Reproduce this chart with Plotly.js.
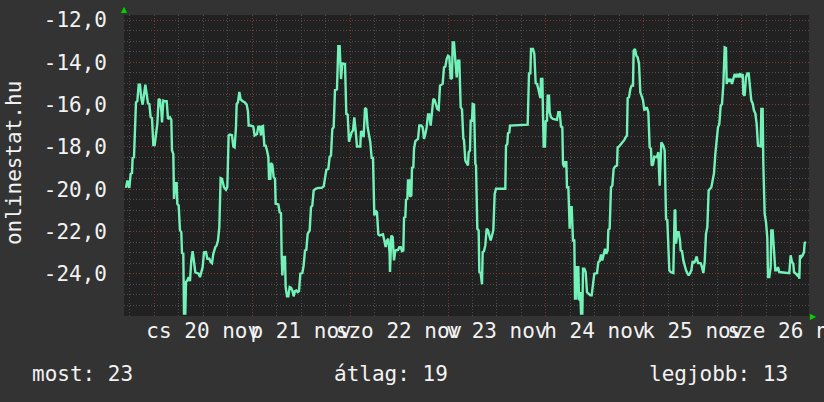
<!DOCTYPE html>
<html>
<head>
<meta charset="utf-8">
<script src="https://cdn.plot.ly/plotly-3.0.1.min.js"></script>
<style>html,body{margin:0;padding:0;background:#333333;}#chart{width:824px;height:402px;}</style>
</head>
<body>
<div id="chart"></div>
<script>
// hours since 2014-11-20 00:00
const hours = [
-6.94,-6.61,-6.12,-5.80,-5.47,-5.31,-4.98,-4.81,-4.49,-4.16,-3.83,-3.51,-3.18,-2.85,-2.53,-2.20,-1.87,-1.55,-1.22,-0.89,
-0.57,-0.24,0.09,0.41,0.74,1.07,1.40,1.72,1.89,2.21,2.54,3.03,3.36,3.85,4.17,4.34,4.66,4.83,5.15,5.48,
5.64,5.97,6.30,6.62,6.79,7.11,7.28,7.60,7.77,8.09,8.42,8.75,9.07,9.40,9.73,10.06,10.54,10.87,11.20,11.53,
11.85,12.18,12.67,13.00,13.49,13.81,14.14,14.47,14.96,15.28,15.61,15.94,16.26,16.59,17.08,17.57,17.90,18.22,18.55,19.04,
19.37,19.69,20.02,20.19,20.51,20.84,21.17,21.66,22.15,22.64,22.96,23.13,23.62,24.27,24.60,
25.18,25.50,25.83,26.16,26.32,26.65,26.98,27.30,27.63,27.96,28.12,28.45,28.61,28.94,29.26,29.59,29.75,30.08,30.41,30.73,
31.06,31.22,31.39,31.71,32.04,32.20,32.53,32.86,33.18,33.51,33.84,34.16,34.49,34.82,35.14,35.47,35.80,36.29,36.61,36.94,
37.27,37.60,38.09,38.41,38.74,39.07,39.56,40.21,41.03,41.52,41.84,42.17,42.66,42.99,43.31,43.64,43.97,44.29,44.78,45.11,
45.44,45.77,46.09,46.42,46.75,47.07,47.40,47.73,48.05,48.38,48.71,49.03,49.36,49.69,50.50,50.67,50.99,51.32,51.65,51.97,
52.30,52.63,52.95,53.28,53.61,53.94,54.26,54.59,54.92,55.24,56.06,56.39,56.71,57.04,57.37,57.69,
57.78,58.11,58.44,58.76,59.09,59.75,60.07,60.40,60.72,61.05,61.22,61.54,61.71,62.03,62.20,62.52,62.69,63.01,63.18,63.50,
63.67,63.99,64.65,64.97,65.46,65.79,66.12,66.44,66.77,67.10,67.42,67.75,68.08,68.40,68.73,69.06,69.38,69.71,70.04,70.69,
71.02,71.35,71.67,72.00,72.33,72.65,72.98,73.15,73.47,73.80,74.13,74.45,74.78,75.11,75.43,75.76,75.92,76.25,76.58,76.90,
77.07,77.39,77.56,77.89,78.05,78.38,78.70,78.87,79.19,79.52,79.68,80.01,80.34,80.50,80.83,81.15,81.48,81.81,82.13,82.46,
82.79,83.11,83.44,83.77,86.05,86.22,86.54,86.71,87.03,87.20,91.53,
91.86,92.19,92.35,92.84,93.17,93.49,93.82,94.15,94.47,94.64,94.80,95.13,95.29,95.46,95.78,95.95,96.27,96.44,96.76,96.93,
97.25,97.74,98.72,99.05,99.38,99.70,100.03,100.19,100.52,100.68,101.01,101.17,101.50,101.66,101.83,101.99,102.32,102.64,102.97,103.14,
103.46,103.63,103.95,104.12,104.28,104.44,104.61,104.93,105.10,105.42,105.75,106.08,106.40,106.89,107.22,107.55,107.87,108.53,108.85,109.18,
109.51,109.83,110.16,110.49,110.81,111.14,111.31,111.63,111.96,112.29,112.61,112.94,113.43,113.59,113.92,114.57,115.23,115.55,115.88,116.04,
116.37,116.70,117.02,117.35,117.51,117.84,118.17,118.49,118.82,119.15,119.48,119.80,120.13,120.46,120.78,121.11,121.44,121.76,121.93,122.25,
122.58,123.23,123.56,123.89,
124.30,124.80,125.12,125.45,125.77,125.94,126.26,126.59,127.24,127.57,127.73,127.90,128.22,128.55,128.88,129.04,129.37,129.70,130.02,130.35,
130.68,131.00,131.33,131.66,131.98,132.31,132.64,132.96,133.29,133.94,134.27,134.60,134.92,135.25,135.58,135.90,136.56,136.89,137.21,137.54,
137.87,138.19,138.52,138.85,139.17,139.50,139.83,140.15,140.32,140.64,140.97,141.30,141.62,141.95,142.28,142.60,142.93,143.26,143.58,143.91,
144.24,144.40,144.73,145.05,145.38,145.71,146.03,146.36,146.69,147.01,147.34,147.67,147.99,148.65,148.81,149.14,149.30,149.63,149.96,150.28,
150.45,150.77,151.10,151.26,151.59,151.92,152.24,152.57,152.90,153.22,155.67,156.00,156.33,156.65,156.82,157.31,157.63,157.96,158.13,158.29,
158.62,158.94,159.27,159.43,159.76
];
const values = [
-19.94,-19.59,-19.94,-19.28,-19.24,-18.52,-18.49,-17.46,-15.89,-15.84,-15.06,-15.06,-15.73,-16.00,-15.50,-15.06,-15.50,-15.94,-15.97,-16.60,
-16.63,-17.91,-17.91,-17.39,-16.91,-15.73,-15.78,-16.28,-16.84,-15.81,-15.84,-15.84,-16.68,-16.60,-16.72,-18.17,-18.33,-20.46,-19.72,-19.72,
-20.69,-20.77,-21.95,-22.03,-23.02,-23.06,-25.89,-25.89,-24.39,-24.32,-24.16,-24.35,-23.37,-22.93,-23.37,-23.94,-23.97,-24.00,-24.16,-23.84,
-23.69,-22.99,-22.98,-23.29,-23.29,-23.45,-23.50,-23.06,-22.74,-22.66,-22.43,-21.80,-19.48,-19.51,-19.91,-20.03,-19.91,-17.46,-17.42,-17.45,
-17.98,-18.02,-17.07,-15.97,-15.89,-15.40,-15.75,-15.84,-15.89,-16.00,-16.32,-16.99,-16.99,-17.04,-17.46,
-17.39,-17.04,-17.04,-17.46,-17.04,-17.01,-17.94,-17.94,-18.17,-18.49,-19.51,-19.51,-18.77,-18.84,-19.43,-19.51,-20.69,-20.72,-20.72,-21.09,
-21.13,-23.18,-24.08,-23.21,-23.21,-24.63,-25.07,-25.07,-24.63,-24.66,-24.79,-25.07,-24.82,-24.79,-24.87,-24.82,-24.00,-23.97,-23.61,-22.90,
-22.87,-22.11,-21.95,-20.85,-20.77,-20.06,-19.98,-19.94,-19.94,-19.87,-19.35,-19.09,-19.04,-18.46,-18.41,-17.15,-17.07,-15.31,-15.28,-13.24,
-13.24,-14.79,-14.05,-14.08,-14.08,-16.44,-16.47,-17.75,-17.46,-17.31,-17.23,-16.60,-17.23,-17.98,-17.98,-17.26,-17.31,-17.54,-16.16,-16.21,
-17.07,-17.54,-17.78,-18.52,-18.52,-21.24,-21.01,-21.09,-22.14,-22.19,-22.14,-22.43,-22.74,-22.43,-22.35,-23.06,
-23.92,-22.19,-22.27,-23.37,-22.90,-22.87,-22.74,-22.74,-22.93,-22.90,-21.35,-21.32,-20.50,-20.46,-19.59,-19.59,-20.35,-20.30,-18.99,-18.96,
-18.09,-17.73,-17.62,-16.99,-16.99,-17.07,-17.62,-17.39,-17.07,-16.47,-16.47,-16.99,-16.28,-15.73,-15.78,-15.97,-16.21,-16.25,-15.10,-15.02,
-14.24,-14.20,-13.84,-13.69,-13.73,-14.79,-14.74,-13.06,-13.06,-13.92,-14.71,-13.92,-13.92,-16.13,-16.21,-17.62,-17.67,-18.65,-18.80,-18.88,
-18.25,-18.17,-16.76,-16.76,-15.97,-16.00,-18.80,-18.88,-21.87,-21.95,-23.92,-23.97,-24.50,-22.98,-22.93,-22.66,-21.87,-21.95,-22.19,-22.43,
-22.19,-21.95,-20.22,-19.98,-19.98,-17.94,-17.86,-17.35,-17.32,-16.99,-16.95,
-14.52,-14.52,-13.37,-13.37,-13.61,-14.99,-15.02,-15.26,-15.65,-15.69,-14.79,-14.79,-16.44,-17.98,-17.98,-16.79,-16.76,-15.58,-15.58,-16.36,
-16.60,-16.68,-16.72,-16.36,-16.36,-17.04,-17.07,-18.80,-18.96,-18.72,-18.72,-19.91,-19.91,-21.87,-21.87,-20.85,-20.85,-22.43,-22.43,-25.18,
-25.18,-23.69,-23.69,-25.18,-25.26,-24.87,-25.89,-25.89,-23.76,-23.76,-23.92,-24.87,-24.95,-25.02,-25.02,-24.55,-24.00,-23.97,-23.45,-23.40,
-23.09,-23.37,-23.13,-22.82,-23.06,-22.90,-21.92,-21.87,-19.91,-19.83,-19.04,-18.93,-18.88,-18.02,-17.98,-17.83,-17.67,-17.54,-17.46,-15.69,
-15.65,-15.26,-15.10,-15.10,-13.45,-13.37,-13.69,-13.76,-14.05,-15.42,-15.58,-15.78,-16.28,-16.16,-16.16,-16.36,-18.02,-18.09,-18.88,-18.84,
-18.46,-18.49,-18.25,-19.83,
-17.78,-17.94,-18.17,-21.40,-21.48,-22.43,-23.84,-23.92,-23.97,-20.98,-21.01,-22.58,-22.03,-22.03,-22.43,-22.90,-22.93,-23.37,-23.69,-23.84,
-23.97,-24.08,-23.97,-23.84,-23.40,-23.50,-23.37,-23.18,-23.50,-23.50,-23.69,-23.97,-23.45,-22.11,-21.80,-20.06,-19.91,-19.51,-19.24,-18.33,
-17.46,-17.07,-16.91,-16.05,-15.97,-15.06,-13.29,-13.32,-15.02,-14.79,-14.87,-14.79,-15.02,-14.74,-14.55,-14.71,-14.55,-14.71,-14.52,-14.71,
-14.55,-15.50,-15.58,-14.71,-14.52,-14.52,-15.02,-15.81,-15.94,-16.28,-16.41,-16.91,-17.94,-17.98,-16.21,-16.21,-18.80,-21.17,-21.56,-22.30,
-24.16,-24.16,-23.69,-21.95,-21.95,-23.06,-23.84,-23.84,-23.69,-23.92,-23.97,-23.13,-23.45,-23.53,-23.92,-24.00,-24.08,-24.00,-24.24,-23.13,
-23.21,-23.13,-22.98,-22.55,-22.50
];
const dayStarts = [0, 24, 48, 72, 96, 120, 144];
const labelHours = [12, 36, 60, 84, 108, 132, 156];
const dayLabels = ['cs 20 nov', 'p 21 nov', 'szo 22 nov', 'v 23 nov', 'h 24 nov', 'k 25 nov', 'sze 26 nov'];
const yTickVals = [-24, -22, -20, -18, -16, -14, -12];
const yTickText = ['-24,0', '-22,0', '-20,0', '-18,0', '-16,0', '-14,0', '-12,0'];
const xRange = [-7.43, 160.5];
const yRange = [-26, -11.76];
const statsText = ['most: 23', 'átlag: 19', 'legjobb: 13'];

const mono = 'DejaVu Sans Mono, monospace';
const fs = 21;
const txt = '#f2f2f2';
const redGrid = '#7a3838';
const grayGrid = '#4e4e4e';

const traces = [
  {x: hours, y: values, type: 'scatter', mode: 'lines', xaxis: 'x', yaxis: 'y',
   line: {color: '#72f2b8', width: 2.4}, hoverinfo: 'skip'},
  {x: [labelHours[0]], y: [null], type: 'scatter', mode: 'lines', xaxis: 'x2', yaxis: 'y', hoverinfo: 'skip', showlegend: false}
];

const layout = {
  width: 824, height: 402,
  margin: {l: 124, r: 15, t: 15, b: 86, pad: 0},
  paper_bgcolor: '#333333',
  plot_bgcolor: '#212121',
  showlegend: false,
  font: {family: mono, size: fs, color: txt},
  xaxis: {
    range: xRange, tickmode: 'array', tickvals: dayStarts, showticklabels: false, ticks: '',
    showgrid: true, gridcolor: redGrid, gridwidth: 1, griddash: '1px,2px',
    zeroline: false, showline: false, fixedrange: true,
    minor: {tick0: 0, dtick: 6, showgrid: true, gridcolor: grayGrid, gridwidth: 1, griddash: '1px,2px', ticks: ''}
  },
  xaxis2: {
    overlaying: 'x', anchor: 'y', side: 'bottom', range: xRange,
    tickmode: 'array', tickvals: labelHours, ticktext: dayLabels, tickangle: 0,
    ticklabeloverflow: 'allow',
    showgrid: false, zeroline: false, showline: false, ticks: '',
    tickfont: {family: mono, size: fs, color: txt}, fixedrange: true
  },
  yaxis: {
    range: yRange, tickmode: 'array', tickvals: yTickVals, ticktext: yTickText,
    showgrid: true, gridcolor: redGrid, gridwidth: 1, griddash: '1px,2px',
    zeroline: false, showline: false, ticks: '', ticklabelstandoff: 16,
    tickfont: {family: mono, size: fs, color: txt}, fixedrange: true,
    minor: {tick0: -26, dtick: 0.5, showgrid: true, gridcolor: grayGrid, gridwidth: 1, griddash: '1px,2px', ticks: ''}
  },
  annotations: [
    {text: 'onlinestat.hu', textangle: -90, xref: 'paper', yref: 'paper', x: -0.1606, y: 0.508,
     xanchor: 'center', yanchor: 'middle', showarrow: false, font: {family: mono, size: fs, color: txt}},
    {text: statsText[0], xref: 'paper', yref: 'paper', x: -0.1372, y: -0.1927, xanchor: 'left', yanchor: 'middle',
     showarrow: false, font: {family: mono, size: fs, color: txt}},
    {text: statsText[1], xref: 'paper', yref: 'paper', x: 0.3036, y: -0.1927, xanchor: 'left', yanchor: 'middle',
     showarrow: false, font: {family: mono, size: fs, color: txt}},
    {text: statsText[2], xref: 'paper', yref: 'paper', x: 0.7635, y: -0.1927, xanchor: 'left', yanchor: 'middle',
     showarrow: false, font: {family: mono, size: fs, color: txt}},
    {text: '▲', xref: 'paper', yref: 'paper', x: 0, y: 1.017, xanchor: 'center', yanchor: 'middle',
     showarrow: false, font: {family: 'DejaVu Sans', size: 8, color: '#00d000'}},
    {text: '▶', xref: 'paper', yref: 'paper', x: 1.006, y: 0, xanchor: 'center', yanchor: 'middle',
     showarrow: false, font: {family: 'DejaVu Sans', size: 8, color: '#00d000'}}
  ]
};

Plotly.newPlot('chart', traces, layout, {displayModeBar: false, staticPlot: true});
</script>
</body>
</html>
